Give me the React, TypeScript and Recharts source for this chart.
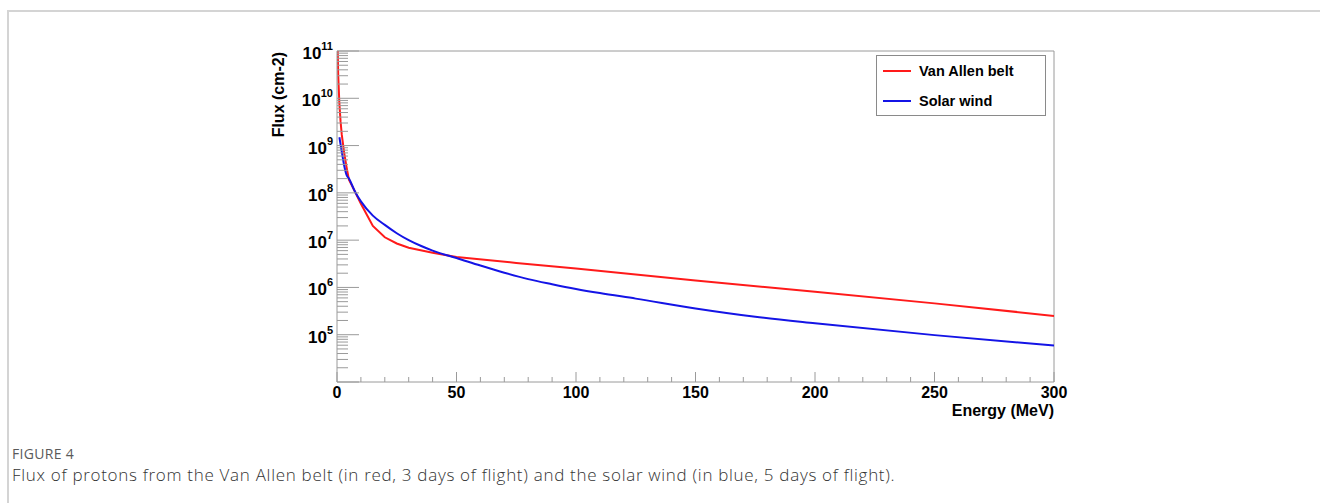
import { LineChart, Line, XAxis, YAxis, ReferenceLine, Legend, Label } from 'recharts';

// energy in MeV, flux in cm-2
const redEnergy = [0.3, 0.5, 1, 1.5, 2, 3, 4, 5, 7.5, 10, 15, 20, 25, 30, 40, 50, 75, 100, 150, 200, 250, 300];
const redFlux = [1e11, 3.2e10, 7.6e9, 3.2e9, 1.7e9, 7e8, 3.5e8, 1.9e8, 1.07e8, 5.9e7, 2e7, 1.15e7, 8.5e6, 6.9e6, 5.4e6, 4.4e6, 3.3e6, 2.5e6, 1.4e6, 8.1e5, 4.6e5, 2.5e5];

const blueEnergy = [1, 2, 3, 4, 5, 7.5, 10, 15, 20, 25, 30, 35, 40, 50, 60, 70, 80, 90, 100, 110, 125, 150, 175, 200, 250, 300];
const blueFlux = [1.5e9, 7.4e8, 3.8e8, 2.4e8, 2e8, 1.07e8, 6.6e7, 3.3e7, 2.1e7, 1.4e7, 1e7, 7.6e6, 6e6, 4.2e6, 2.9e6, 2.05e6, 1.5e6, 1.17e6, 9.3e5, 7.6e5, 5.8e5, 3.6e5, 2.4e5, 1.74e5, 9.8e4, 5.9e4];

const xMajor = [0, 50, 100, 150, 200, 250, 300];
const xTicks = Array.from({ length: 31 }, (_, i) => i * 10);
const yExponents = [4, 5, 6, 7, 8, 9, 10, 11];
const yMantissas = [1, 2, 3, 4, 5, 6, 7, 8, 9];
const yTicks = yExponents.flatMap((e) => (e === 11 ? [1e11] : yMantissas.map((m) => m * Math.pow(10, e))));

const redData = redEnergy.map((e, i) => ({ e, flux: redFlux[i] }));
const blueData = blueEnergy.map((e, i) => ({ e, flux: blueFlux[i] }));

const W = 850;
const H = 400;
const M = { top: 21, right: 46, left: 0, bottom: 0 };
const Y_W = 87;
const X_H = 48;
const PLOT_LEFT = M.left + Y_W;
const PLOT_BOTTOM = H - M.bottom - X_H;
const AXIS_GRAY = '#9a9a9a';
const FONT = '"Liberation Sans", Arial, Helvetica, sans-serif';

const YTick = (props: any) => {
  const { y, payload } = props;
  const v = payload.value;
  const exp = Math.round(Math.log10(v));
  const major = Math.abs(v - Math.pow(10, exp)) < 1e-6 * v;
  return (
    <g>
      <line x1={PLOT_LEFT} x2={PLOT_LEFT + (major ? 22 : 11)} y1={y} y2={y} stroke={AXIS_GRAY} strokeWidth={1} />
      {major && exp > 4 && (
        <text x={PLOT_LEFT - 4} y={y + 8} textAnchor="end" fontFamily={FONT} fontWeight="bold" fontSize={17} fill="#000">
          10
          <tspan fontSize={11} dy={-9}>{exp}</tspan>
        </text>
      )}
    </g>
  );
};

const XTick = (props: any) => {
  const { x, payload } = props;
  const v = payload.value;
  const major = xMajor.includes(v);
  return (
    <g>
      <line x1={x} x2={x} y1={PLOT_BOTTOM} y2={PLOT_BOTTOM - (major ? 10 : 5)} stroke={AXIS_GRAY} strokeWidth={1} />
      {major && (
        <text x={x} y={PLOT_BOTTOM + 16} textAnchor="middle" fontFamily={FONT} fontWeight="bold" fontSize={16} fill="#000">
          {v}
        </text>
      )}
    </g>
  );
};

const LegendBox = () => (
  <div
    style={{
      width: 168,
      height: 59,
      border: '1px solid #8a8a8a',
      background: '#fff',
      position: 'relative',
      fontFamily: FONT,
      fontWeight: 'bold',
      fontSize: 14.5,
    }}
  >
    {[
      { name: 'Van Allen belt', color: '#ff1a1a', top: 15 },
      { name: 'Solar wind', color: '#1414e6', top: 45 },
    ].map((r) => (
      <div key={r.name}>
        <div style={{ position: 'absolute', left: 6, top: r.top - 1, width: 28, height: 2, background: r.color }} />
        <div style={{ position: 'absolute', left: 42, top: r.top - 9, lineHeight: '18px' }}>{r.name}</div>
      </div>
    ))}
  </div>
);

export default function App() {
  return (
    <div style={{ position: 'absolute', left: 0, top: 0, width: 1320, height: 503, background: '#fff', overflow: 'hidden' }}>
      <div
        style={{
          position: 'absolute',
          left: 7,
          top: 10,
          width: 1400,
          height: 600,
          borderTop: '2px solid #d4d4d4',
          borderLeft: '2px solid #d4d4d4',
        }}
      />
      <div style={{ position: 'absolute', left: 250, top: 30 }}>
        <LineChart width={W} height={H} margin={M}>
          <XAxis
            type="number"
            dataKey="e"
            domain={[0, 300]}
            ticks={xTicks}
            interval={0}
            tick={<XTick />}
            tickLine={false}
            axisLine={{ stroke: AXIS_GRAY }}
            height={X_H}
            allowDataOverflow
          >
            <Label
              content={() => (
                <text x={W - M.right} y={PLOT_BOTTOM + 34} textAnchor="end" fontFamily={FONT} fontWeight="bold" fontSize={16} fill="#000">
                  Energy (MeV)
                </text>
              )}
            />
          </XAxis>
          <YAxis
            type="number"
            scale="log"
            domain={[1e4, 1e11]}
            ticks={yTicks}
            interval={0}
            tick={<YTick />}
            tickLine={false}
            axisLine={{ stroke: AXIS_GRAY }}
            width={Y_W}
            allowDataOverflow
          >
            <Label
              content={() => (
                <text
                  x={34}
                  y={M.top + 1}
                  transform={`rotate(-90 34 ${M.top + 1})`}
                  textAnchor="end"
                  fontFamily={FONT}
                  fontWeight="bold"
                  fontSize={16}
                  fill="#000"
                >
                  Flux (cm-2)
                </text>
              )}
            />
          </YAxis>
          <ReferenceLine y={1e11} stroke={AXIS_GRAY} />
          <ReferenceLine x={300} stroke={AXIS_GRAY} />
          <Legend
            layout="vertical"
            align="center"
            verticalAlign="middle"
            wrapperStyle={{ left: 626, top: 25, width: 170 }}
            content={() => <LegendBox />}
          />
          <Line data={redData} dataKey="flux" type="linear" stroke="#ff1a1a" strokeWidth={2} dot={false} isAnimationActive={false} />
          <Line data={blueData} dataKey="flux" type="monotone" stroke="#1414e6" strokeWidth={2} dot={false} isAnimationActive={false} />
        </LineChart>
      </div>
      <div style={{ position: 'absolute', left: 12, top: 444, fontFamily: '"Open Sans", sans-serif', fontSize: 14, color: '#5a5a5a', letterSpacing: 0.3 }}>
        FIGURE 4
      </div>
      <div style={{ position: 'absolute', left: 12, top: 463, fontFamily: '"Open Sans", sans-serif', fontWeight: 300, fontSize: 17, color: '#333', letterSpacing: 0.7 }}>
        Flux of protons from the Van Allen belt (in red, 3 days of flight) and the solar wind (in blue, 5 days of flight).
      </div>
    </div>
  );
}
